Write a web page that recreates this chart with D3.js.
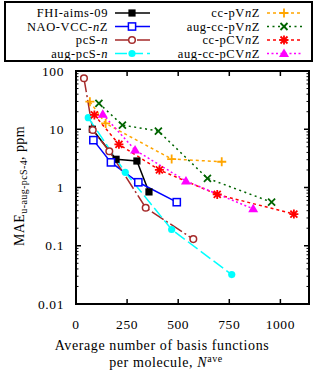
<!DOCTYPE html>
<html>
<head>
<meta charset="utf-8">
<script src="https://cdn.jsdelivr.net/npm/d3@7"></script>
<style>
  body { margin: 0; background: #fff; }
</style>
</head>
<body>
<div id="chart"></div>
<script>
// basis-set series: x = average number of basis functions, y = MAE (ppm)
const fhiX = [80, 196, 298, 357];
const fhiY = [10, 3.05, 2.85, 0.84];
const naoX = [85, 171, 305, 493];
const naoY = [6.5, 2.7, 1.23, 0.56];
const pcsX = [39, 82, 163, 341, 574];
const pcsY = [75, 9.7, 4.2, 0.45, 0.13];
const augPcsX = [60, 241, 468, 762];
const augPcsY = [15.8, 1.82, 0.19, 0.032];
const ccpvX = [68, 145, 468, 713];
const ccpvY = [29.7, 12.6, 3.08, 2.77];
const augCcpvX = [112, 227, 403, 643, 957];
const augCcpvY = [27.9, 11.8, 9.3, 1.44, 0.56];
const ccpcvX = [90, 210, 408, 691, 1066];
const ccpcvY = [17.6, 5.5, 2.0, 0.76, 0.35];
const augCcpcvX = [131, 289, 538, 867];
const augCcpcvY = [18.1, 4.4, 1.29, 0.43];

const xTicks = [0, 250, 500, 750, 1000];
const yTicks = [0.01, 0.1, 1, 10, 100];
const yTickLabels = ["0.01", "0.1", "1", "10", "100"];

const width = 317;
const height = 375;
const margin = { top: 71, right: 8, bottom: 71, left: 76 };
const fontFamily = "Liberation Serif, Times New Roman, Times, serif";

const series = [
  { name: "FHI-aims-09", x: fhiX, y: fhiY, color: "#000000", dash: null, marker: "fsquare" },
  { name: "NAO-VCC-", it: "n", tail: "Z", x: naoX, y: naoY, color: "#0000ff", dash: null, marker: "osquare" },
  { name: "pcS-", it: "n", tail: "", x: pcsX, y: pcsY, color: "#a52a2a", dash: "14,3,2,3", marker: "ocircle" },
  { name: "aug-pcS-", it: "n", tail: "", x: augPcsX, y: augPcsY, color: "#00ffff", dash: "12,4", marker: "fcircle" },
  { name: "cc-pV", it: "n", tail: "Z", x: ccpvX, y: ccpvY, color: "#ffa500", dash: "3,3", marker: "plus" },
  { name: "aug-cc-pV", it: "n", tail: "Z", x: augCcpvX, y: augCcpvY, color: "#006400", dash: "2,3.5", marker: "cross" },
  { name: "cc-pCV", it: "n", tail: "Z", x: ccpcvX, y: ccpcvY, color: "#ff0000", dash: "3,3", marker: "star" },
  { name: "aug-cc-pCV", it: "n", tail: "Z", x: augCcpcvX, y: augCcpcvY, color: "#ff00ff", dash: "2,2.5", marker: "triangle" }
];

const svg = d3.select("#chart").append("svg")
  .attr("width", width)
  .attr("height", height)
  .style("font-family", fontFamily);

const x = d3.scaleLinear().domain([0, 1140]).range([margin.left, width - margin.right]);
const y = d3.scaleLog().domain([0.01, 100]).range([height - margin.bottom, margin.top]);

function drawMarker(g, type, cx, cy, color) {
  const s = 3.6;
  if (type === "fsquare") {
    g.append("rect").attr("x", cx - s).attr("y", cy - s).attr("width", 2 * s).attr("height", 2 * s).attr("fill", color);
  } else if (type === "osquare") {
    g.append("rect").attr("x", cx - s).attr("y", cy - s).attr("width", 2 * s).attr("height", 2 * s)
      .attr("fill", "white").attr("stroke", color).attr("stroke-width", 1.5);
  } else if (type === "ocircle") {
    g.append("circle").attr("cx", cx).attr("cy", cy).attr("r", 3.3)
      .attr("fill", "white").attr("stroke", color).attr("stroke-width", 1.5);
  } else if (type === "fcircle") {
    g.append("circle").attr("cx", cx).attr("cy", cy).attr("r", 3.6).attr("fill", color);
  } else if (type === "plus") {
    g.append("path").attr("d", `M${cx - 4.5},${cy}H${cx + 4.5}M${cx},${cy - 4.5}V${cy + 4.5}`)
      .attr("stroke", color).attr("stroke-width", 1.8);
  } else if (type === "cross") {
    g.append("path").attr("d", `M${cx - 3.5},${cy - 3.5}L${cx + 3.5},${cy + 3.5}M${cx - 3.5},${cy + 3.5}L${cx + 3.5},${cy - 3.5}`)
      .attr("stroke", color).attr("stroke-width", 1.8);
  } else if (type === "star") {
    g.append("path").attr("d", `M${cx - 3.5},${cy - 3.5}L${cx + 3.5},${cy + 3.5}M${cx - 3.5},${cy + 3.5}L${cx + 3.5},${cy - 3.5}M${cx - 4.5},${cy}H${cx + 4.5}M${cx},${cy - 4.5}V${cy + 4.5}`)
      .attr("stroke", color).attr("stroke-width", 1.8);
  } else if (type === "triangle") {
    g.append("path").attr("d", `M${cx},${cy - 5}L${cx + 5},${cy + 3.5}L${cx - 5},${cy + 3.5}Z`).attr("fill", color);
  }
}

// plot frame, ticks
const x0 = margin.left, x1 = width - margin.right;
const y0 = height - margin.bottom, y1 = margin.top;

const axes = svg.append("g");
xTicks.forEach(function(t) {
  if (t === 0) return;
  axes.append("line").attr("x1", x(t)).attr("x2", x(t)).attr("y1", y0).attr("y2", y0 - 5)
    .attr("stroke", "black").attr("stroke-width", 1.5);
  axes.append("line").attr("x1", x(t)).attr("x2", x(t)).attr("y1", y1).attr("y2", y1 + 5)
    .attr("stroke", "black").attr("stroke-width", 1.5);
});
yTicks.forEach(function(t) {
  if (t !== 0.01 && t !== 100) {
    axes.append("line").attr("x1", x0).attr("x2", x0 + 5).attr("y1", y(t)).attr("y2", y(t))
      .attr("stroke", "black").attr("stroke-width", 1.5);
    axes.append("line").attr("x1", x1).attr("x2", x1 - 5).attr("y1", y(t)).attr("y2", y(t))
      .attr("stroke", "black").attr("stroke-width", 1.5);
  }
  if (t < 100) {
    for (let k = 2; k <= 9; k++) {
      const v = t * k;
      axes.append("line").attr("x1", x0).attr("x2", x0 + 2.5).attr("y1", y(v)).attr("y2", y(v))
        .attr("stroke", "black").attr("stroke-width", 1);
      axes.append("line").attr("x1", x1).attr("x2", x1 - 2.5).attr("y1", y(v)).attr("y2", y(v))
        .attr("stroke", "black").attr("stroke-width", 1);
    }
  }
});
axes.append("rect").attr("x", x0).attr("y", y1).attr("width", x1 - x0).attr("height", y0 - y1)
  .attr("fill", "none").attr("stroke", "black").attr("stroke-width", 2);

// tick labels
xTicks.forEach(function(t) {
  svg.append("text").attr("x", x(t)).attr("y", y0 + 25).attr("text-anchor", "middle")
    .attr("font-size", 13.5).attr("letter-spacing", 0.6).text(t);
});
yTicks.forEach(function(t, i) {
  svg.append("text").attr("x", x0 - 12).attr("y", y(t) + 4.5).attr("text-anchor", "end")
    .attr("font-size", 13.5).attr("letter-spacing", 0.6).text(yTickLabels[i]);
});

// axis titles
const xl = svg.append("text").attr("x", 162).attr("y", 350).attr("text-anchor", "middle")
  .attr("font-size", 14).attr("letter-spacing", 0.6);
xl.text("Average number of basis functions");
const xl2 = svg.append("text").attr("x", 166).attr("y", 367).attr("text-anchor", "middle")
  .attr("font-size", 14).attr("letter-spacing", 0.6);
xl2.append("tspan").text("per molecule, ");
xl2.append("tspan").attr("font-style", "italic").text("N");
xl2.append("tspan").attr("font-size", 10).attr("dy", -5).text("ave");

const yl = svg.append("text").attr("transform", "translate(24,186) rotate(-90)")
  .attr("text-anchor", "middle").attr("font-size", 14).attr("letter-spacing", 0.4);
yl.append("tspan").text("MAE");
yl.append("tspan").attr("font-size", 10).attr("dy", 3).text("u-aug-pcS-4");
yl.append("tspan").attr("dy", -3).text(", ppm");

// series
const line = d3.line().x(function(d) { return x(d[0]); }).y(function(d) { return y(d[1]); });
const plot = svg.append("g");
series.forEach(function(s) {
  const pts = s.x.map(function(v, i) { return [v, s.y[i]]; });
  plot.append("path").attr("d", line(pts)).attr("fill", "none")
    .attr("stroke", s.color).attr("stroke-width", 1.5)
    .attr("stroke-dasharray", s.dash);
});
series.forEach(function(s) {
  const g = plot.append("g");
  s.x.forEach(function(v, i) { drawMarker(g, s.marker, x(v), y(s.y[i]), s.color); });
});

// legend
const legend = svg.append("g");
legend.append("rect").attr("x", 5).attr("y", 2).attr("width", 307).attr("height", 59)
  .attr("fill", "white").attr("stroke", "black").attr("stroke-width", 2);
const rowY = [13, 26.5, 40, 53.5];
series.forEach(function(s, i) {
  const col = Math.floor(i / 4);
  const ry = rowY[i % 4];
  const tx = col === 0 ? 108 : 260;
  const lx = col === 0 ? 115 : 267;
  const t = legend.append("text").attr("x", tx).attr("y", ry + 4).attr("text-anchor", "end")
    .attr("font-size", 12.5).attr("letter-spacing", 0.6);
  t.append("tspan").text(s.name);
  if (s.it) {
    t.append("tspan").attr("font-style", "italic").text(s.it);
    t.append("tspan").text(s.tail);
  }
  legend.append("line").attr("x1", lx).attr("x2", lx + 35).attr("y1", ry).attr("y2", ry)
    .attr("stroke", s.color).attr("stroke-width", 1.5).attr("stroke-dasharray", s.dash);
  const g = legend.append("g");
  drawMarker(g, s.marker, lx + 17, ry, s.color);
});
</script>
</body>
</html>
